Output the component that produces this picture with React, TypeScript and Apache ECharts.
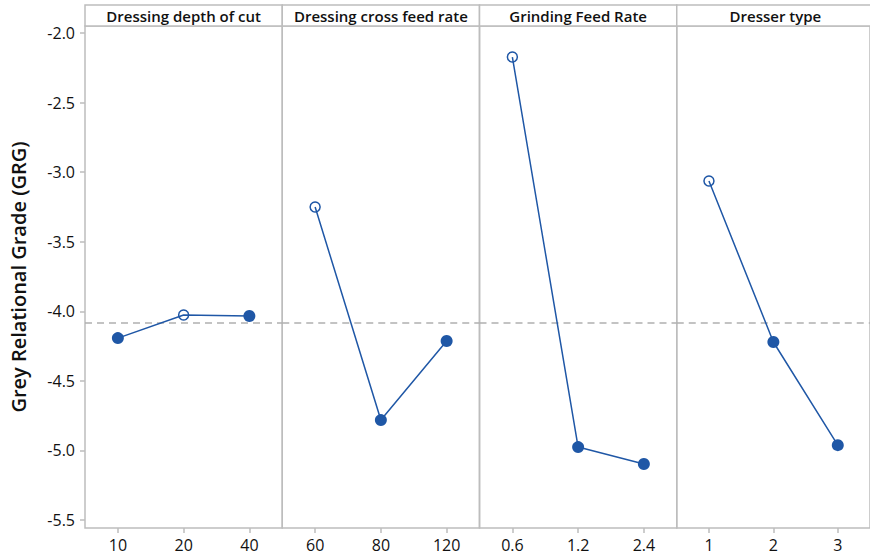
import React, { useEffect, useRef } from "react";
import * as echarts from "echarts";

const panelTitles = ["Dressing depth of cut", "Dressing cross feed rate", "Grinding Feed Rate", "Dresser type"];
const panelCategories = [
  ["10", "20", "40"],
  ["60", "80", "120"],
  ["0.6", "1.2", "2.4"],
  ["1", "2", "3"],
];
const panelValues = [
  [-4.193, -4.027, -4.034],
  [-3.251, -4.782, -4.214],
  [-2.173, -4.976, -5.098],
  [-3.064, -4.221, -4.962],
];
const meanValue = -4.083;
const yTicks = [-5.5, -5.0, -4.5, -4.0, -3.5, -3.0, -2.5, -2.0];
const yLabel = "Grey Relational Grade (GRG)";

const BLUE = "#1f57a6";
const GREY = "#bdbdbd";
const FONT = "'Open Sans', 'Noto Sans', sans-serif";

export default function App() {
  const ref = useRef<HTMLDivElement>(null);
  useEffect(() => {
    if (!ref.current) return;
    const chart = echarts.init(ref.current, undefined, { renderer: "svg" });
    const W = 870, H = 559;
    const left0 = 85, pw = 197.25, top = 26, bottom = 31;
    const grids: any[] = [], xAxes: any[] = [], yAxes: any[] = [], series: any[] = [], graphics: any[] = [];
    panelTitles.forEach((t, i) => {
      const l = left0 + i * pw;
      grids.push({
        left: l, top, width: pw, height: H - top - bottom,
        show: true, borderColor: GREY, borderWidth: 1.5, backgroundColor: "transparent",
      });
      xAxes.push({
        type: "category", gridIndex: i, data: panelCategories[i], boundaryGap: true,
        axisLine: { show: false },
        axisTick: { show: true, alignWithLabel: true, length: 5, inside: false, lineStyle: { color: GREY, width: 1.5 } },
        axisLabel: { color: "#111", fontSize: 16, fontFamily: FONT, margin: 9, interval: 0 },
        splitLine: { show: false },
      });
      yAxes.push({
        type: "value", gridIndex: i, min: -5.5575, max: -1.95, interval: 0.5,
        show: i === 0,
        axisLine: { show: false },
        axisTick: { show: i === 0, length: 5, lineStyle: { color: GREY, width: 1.5 }, customValues: yTicks },
        axisLabel: {
          show: i === 0, color: "#111", fontSize: 16, fontFamily: FONT, margin: 10,
          customValues: yTicks, formatter: (v: number) => v.toFixed(1),
        },
        splitLine: { show: false },
      });
      const vals = panelValues[i];
      const maxV = Math.max(...vals);
      series.push({
        type: "line", xAxisIndex: i, yAxisIndex: i,
        data: vals.map((v) =>
          v === maxV
            ? { value: v, symbol: "circle", symbolSize: 10, itemStyle: { color: "rgba(255,255,255,0)", borderColor: BLUE, borderWidth: 1.5 } }
            : { value: v, symbol: "circle", symbolSize: 12, itemStyle: { color: BLUE, borderColor: BLUE, borderWidth: 0 } }
        ),
        lineStyle: { color: BLUE, width: 1.5 },
        itemStyle: { color: BLUE },
        z: 3,
        markLine: {
          silent: true, symbol: "none", label: { show: false },
          lineStyle: { color: "#b0b0b0", type: [7, 5], width: 1.5 },
          data: [{ yAxis: meanValue }],
          z: 1,
        },
      });
      graphics.push({
        type: "rect",
        shape: { x: l, y: 5, width: pw, height: top - 5 },
        style: { fill: "#fff", stroke: GREY, lineWidth: 1.5 },
      });
      graphics.push({
        type: "text",
        x: l + pw / 2, y: 5 + (top - 5) / 2,
        style: { text: t, fill: "#111", font: `600 15px ${FONT}`, align: "center", verticalAlign: "middle" },
      });
    });
    graphics.push({
      type: "text",
      x: 18, y: 277, rotation: Math.PI / 2,
      style: { text: yLabel, fill: "#111", font: `600 20px ${FONT}`, align: "center", verticalAlign: "middle" },
    });
    chart.setOption({
      animation: false,
      backgroundColor: "#fff",
      grid: grids, xAxis: xAxes, yAxis: yAxes, series, graphic: graphics,
    });
    return () => chart.dispose();
  }, []);
  return <div ref={ref} style={{ width: 870, height: 559, position: "absolute", left: 0, top: 0 }} />;
}
